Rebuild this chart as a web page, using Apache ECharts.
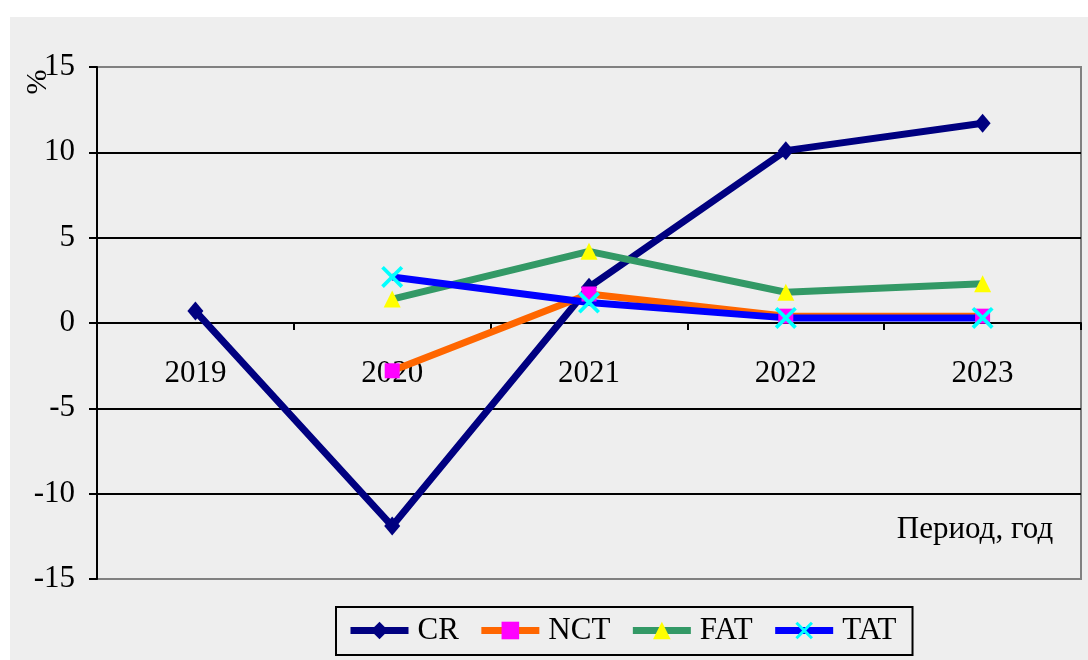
<!DOCTYPE html>
<html>
<head>
<meta charset="utf-8">
<script src="https://cdn.jsdelivr.net/npm/echarts@6/dist/echarts.min.js"></script>
<style>
  html, body { margin: 0; padding: 0; background: #ffffff; }
  #chart { width: 1088px; height: 660px; }
</style>
</head>
<body>
<div id="chart"></div>
<script>
// Годы наблюдений
const years = ['2019', '2020', '2021', '2022', '2023'];

// Темпы изменения показателей, %
const crValues  = [0.7, -11.9, 2.1, 10.1, 11.7];
const nctValues = [null, -2.8, 1.7, 0.4, 0.4];
const fatValues = [null, 1.4, 4.2, 1.8, 2.3];
const tatValues = [null, 2.7, 1.2, 0.3, 0.3];

const seriesNames = ['CR', 'NCT', 'FAT', 'TAT'];
const yTicks = { min: -15, max: 15, step: 5 };

const serif = '"Liberation Serif", "Times New Roman", serif';
const crossPath = 'path://M0,1.2 L1.2,0 L10,8.8 L8.8,10 Z M8.8,0 L10,1.2 L1.2,10 L0,8.8 Z';

// plot box
const gridTop = 67, gridBottom = 81, chartH = 660;
const plotBottomY = chartH - gridBottom;
const zeroY = gridTop + (plotBottomY - gridTop) * (yTicks.max / (yTicks.max - yTicks.min));

const chart = echarts.init(document.getElementById('chart'), null, { renderer: 'canvas' });

function lineSeries(name, data, lineColor, symbol, symbolSize, markColor) {
  return {
    name: name,
    type: 'line',
    data: data,
    symbol: symbol,
    symbolSize: symbolSize,
    showAllSymbol: true,
    lineStyle: { color: lineColor, width: 7 },
    itemStyle: { color: markColor, borderWidth: 0 },
    emphasis: { disabled: true },
    z: 3
  };
}

chart.setOption({
  animation: false,
  backgroundColor: 'transparent',
  textStyle: { fontFamily: serif },
  graphic: [
    {
      type: 'rect',
      shape: { x: 10, y: 17, width: 1078, height: 643 },
      style: { fill: '#eeeeee' },
      z: -10,
      silent: true
    },
    {
      type: 'text',
      x: 38, y: 82,
      rotation: Math.PI / 2,
      style: {
        text: '%', font: '30px ' + serif, fill: '#000',
        align: 'center', verticalAlign: 'middle'
      }
    },
    {
      type: 'text',
      x: 975, y: 530,
      style: {
        text: 'Период, год', font: '31px ' + serif, fill: '#000',
        align: 'center', verticalAlign: 'middle'
      }
    }
  ],
  grid: {
    left: 97, right: 7, top: gridTop, bottom: gridBottom,
    show: true, borderColor: '#808080', borderWidth: 2,
    backgroundColor: 'transparent'
  },
  legend: {
    data: seriesNames,
    left: 336, top: 607,
    padding: [8, 16, 9, 11],
    borderColor: '#000', borderWidth: 2,
    itemWidth: 58, itemHeight: 22, itemGap: 19,
    lineStyle: { width: 7 },
    textStyle: { fontSize: 31, fontFamily: serif, color: '#000', padding: [0, 0, 0, 4] }
  },
  xAxis: {
    type: 'category',
    data: years,
    boundaryGap: true,
    axisLine: { onZero: true, lineStyle: { color: '#000', width: 2 } },
    axisTick: { show: true, length: 7, lineStyle: { color: '#000', width: 2 } },
    // labels sit just under the zero line
    axisLabel: {
      fontSize: 31, fontFamily: serif, color: '#000',
      margin: Math.round(zeroY + 35 - plotBottomY)
    },
    splitLine: { show: false }
  },
  yAxis: {
    type: 'value',
    min: yTicks.min, max: yTicks.max, interval: yTicks.step,
    axisLine: { show: true, lineStyle: { color: '#000', width: 2 } },
    axisTick: { show: true, length: 8, lineStyle: { color: '#000', width: 2 } },
    axisLabel: { fontSize: 31, fontFamily: serif, color: '#000', margin: 22 },
    splitLine: {
      show: true,
      lineStyle: {
        color: ['#808080', '#000', '#000', '#000', '#000', '#000', '#808080'],
        width: 2
      }
    }
  },
  series: [
    lineSeries('CR', crValues, '#000080', 'diamond', [16, 19], '#000080'),
    lineSeries('NCT', nctValues, '#ff6600', 'rect', 15, '#ff00ff'),
    lineSeries('FAT', fatValues, '#339966', 'triangle', 17, '#ffff00'),
    lineSeries('TAT', tatValues, '#0000ff', crossPath, 22, '#00ffff')
  ]
});
</script>
</body>
</html>
